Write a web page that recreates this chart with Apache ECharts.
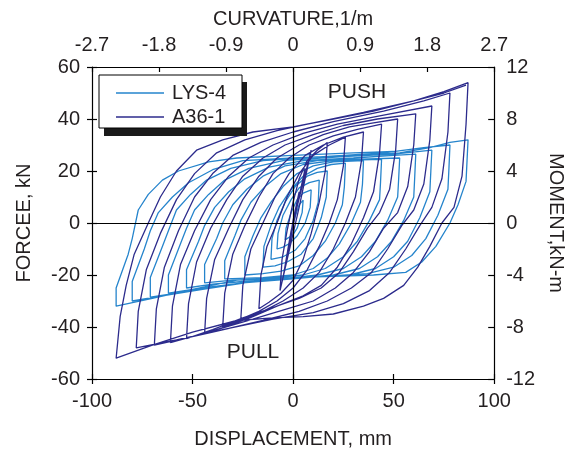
<!DOCTYPE html>
<html>
<head>
<meta charset="utf-8">
<script src="https://cdn.jsdelivr.net/npm/echarts@6/dist/echarts.min.js"></script>
<style>
	html, body { margin: 0; padding: 0; background: #fff; }
	#main { width: 574px; height: 454px; }
</style>
</head>
<body>
<div id="main"></div>
<script>
// displacement (mm), force (kN)
var lys4Path = [
	[0,0],[3,7],[5,8.8],[4.5,4],[2,-2],[0,-4.5],[-3,-6],[-4,-6.5],
	[-3.5,-2],[-1,4],[2,9],[5,11.5],[9,12.7],
	[8.5,6],[6,0],[2,-5],[-2,-8],[-5,-9.3],[-8,-10],
	[-7.5,-4],[-5,3],[-1,9],[3,13.5],[8,15.5],[13,16.5],
	[12.5,8],[10,1],[6,-6],[1,-10.5],[-5,-13],[-11,-14],
	[-10.5,-6],[-8,1],[-4,8],[1,14],[7,18],[12,19.5],[17,20],
	[16.5,10],[14,2],[10,-6],[4,-12],[-3,-15],[-9,-16.5],[-15,-17],
	[-14.5,-9],[-11,-1],[-7,6],[-1,13],[5,18],[12,21],[19,22.5],[26,23],
	[25.5,14],[24.5,7],[21,0],[16,-7],[10,-12.5],[3,-16.5],[-6,-18.5],[-15,-19.5],[-24,-20],
	[-24,-13],[-20,-5],[-16,2],[-11,8],[-5,14],[2,19],[10,22],[20,23.5],[35,24],
	[34.5,15],[33.5,8],[29,0],[23,-8],[17,-13.5],[10,-17.5],[0,-20],[-15,-21],[-34,-21.5],
	[-34,-14.5],[-29,-5],[-26,1],[-21,8],[-14,14],[-6,19],[5,22.5],[20,24],[44,24.5],
	[43.5,16],[43,9],[38,1],[32,-7],[25,-13],[16,-17.5],[5,-20],[-15,-21.5],[-30,-22],[-44,-23],
	[-44,-16],[-38,-6],[-35,0],[-30,7],[-23,13],[-15,18],[-4,22],[12,24],[30,24.5],[53,25],
	[52.5,17],[52,10],[47,1],[41,-7],[34,-13],[25,-17.5],[12,-20],[-5,-21.5],[-25,-22.5],[-40,-23.5],[-53,-25],
	[-53,-18],[-47,-7],[-44,-1],[-39,6],[-32,12],[-24,17],[-12,21.5],[5,24],[30,25],[50,26],[61,26.5],
	[60.5,18],[60,10],[55,1],[49,-7],[42,-13],[33,-17.5],[20,-20],[0,-21.5],[-25,-23],[-45,-25],[-62,-27],
	[-62,-20],[-56,-8],[-53,-2],[-49,5],[-42,11],[-34,16.5],[-22,21],[-5,24],[25,25.5],[50,26.5],[69,28],
	[68.5,20],[68,12],[63,2],[57,-7],[50,-13],[41,-17.5],[28,-20],[5,-21],[-25,-23],[-50,-26],[-71,-28.5],
	[-71,-21],[-65,-9],[-62,-3],[-58,5],[-51,11],[-43,16.5],[-31,21],[-15,24],[15,25.5],[45,27],[65,29],[78,30],
	[77.5,21],[77,13],[72,3],[66,-6],[59,-12.5],[50,-17],[37,-19.5],[15,-20.5],[-15,-22],[-45,-25.5],[-65,-28],[-80,-30],
	[-80,-22.5],[-74,-10],[-71,-3],[-67,4],[-60,10],[-52,15.5],[-40,20.5],[-25,24],[0,25],[30,26],[53,27],[68,29],[78,31],[87,32],
	[86.5,24],[86,16],[82,7],[78,0],[71,-9],[64,-15],[56,-19],[40,-20],[20,-20.5],[0,-21],[-28,-22],[-50,-25.5],[-70,-29],[-88,-32],
	[-88,-25],[-82,-12],[-80,-6],[-77,5],[-72,11],[-65,16.5],[-57,20],[-42,23.5],[-28,25],[0,26],[30,27],[50,27.5]
];

var a361Path = [
	[0,0],[3,12],[0,1],[-3,-13],[0,-1],[6,21],[1,3],[-5,-21],[-1,-3],[9,28],[3,6],[-6.5,-26],
	[-5.5,-14],[-3,-3],[0,8],[3,17],[7,24],[12,28],[17,31],
	[16,20],[13,8],[9,-4],[5,-14],[0,-22],[-6,-27],[-12,-30.5],[-17,-33],
	[-16,-20],[-13,-9],[-8,0],[-3,10],[3,19],[10,26],[18,30],[26,33],
	[25,22],[22,9],[18,0],[13,-9],[7,-18],[0,-25],[-8,-30],[-17,-34],[-26,-37],
	[-25,-24],[-21,-10],[-15,0],[-9,10],[-2,19],[6,26],[15,30],[25,33],[35,35],
	[34,24],[31,10],[26,0],[20,-10],[13,-19],[5,-25],[-5,-30],[-15,-34],[-25,-37],[-35,-40],
	[-34,-27],[-30,-12],[-24,-1],[-17,10],[-10,19],[-2,25],[8,30],[20,33.5],[32,36],[44,38],
	[43,27],[40,12],[35,2],[29,-8],[22,-17],[14,-24],[5,-28],[-8,-32],[-20,-36],[-32,-39.5],[-44,-42.5],
	[-43,-29],[-39,-14],[-32,-2],[-25,9],[-17,18],[-8,25],[3,30],[15,34],[28,37],[40,38.5],[52,40],
	[51,28],[48,13],[43,4],[37,-2],[30,-11],[23,-19],[14,-25],[3,-29],[-10,-32.5],[-25,-36.5],[-40,-41],[-53,-44.5],
	[-52,-31],[-48,-15],[-41,-2],[-33,9],[-25,18],[-15,25],[-4,30],[10,34],[25,37.5],[42,40],[61,42],
	[60,30],[57,14],[52,4],[45,-2],[38,-11],[30,-19],[21,-25],[10,-30],[-3,-33],[-20,-37],[-40,-41.5],[-61,-46],
	[-60,-32],[-56,-16],[-49,-3],[-41,9],[-32,18],[-22,25],[-10,30],[5,34.5],[22,38],[45,41.5],[69,45],
	[68,32],[65,15],[60,5],[54,-1],[47,-10],[39,-19],[29,-25],[17,-30],[3,-34],[-15,-37.5],[-40,-42],[-69,-47],
	[-68,-33],[-64,-17],[-57,-3],[-49,10],[-40,19],[-30,26],[-16,31],[0,35],[20,39],[45,43],[65,47],[78,50],
	[77,35],[74,17],[69,6],[63,-1],[56,-10],[48,-19],[38,-26],[25,-31],[10,-34.5],[-10,-37],[-35,-41],[-58,-45],[-78,-48],
	[-77,-34],[-73,-18],[-66,-4],[-58,9],[-49,19],[-38,27],[-24,32],[-8,35.5],[10,38.5],[35,42.5],[60,47],[75,50.5],[87,54],
	[86,38],[84,18],[80,6],[74,0],[68,-9],[62,-17],[55,-24],[45,-29],[35,-32],[20,-35],[5,-36],[-10,-36.5],[-28,-37.5],[-50,-42],[-70,-47],[-88,-52],
	[-86,-36],[-83,-24],[-79,-12],[-72,0],[-66,10],[-58,20],[-48,28],[-35,32],[-20,35],[0,37],[20,40],[40,43],[60,47],[75,50],[86,53]
];

var seriesNames = ['LYS-4', 'A36-1'];
var seriesColors = ['#2584cc', '#2c2b8c'];

var font = 'Liberation Sans, Arial, sans-serif';
var ink = '#231f20';
var axisLine = { show: true, onZero: false, lineStyle: { color: '#000', width: 1.2 } };

var chart = echarts.init(document.getElementById('main'));

chart.setOption({
	animation: false,
	textStyle: { fontFamily: font },
	grid: { left: 92, right: 74, top: 67, bottom: 74 },
	legend: {
		left: 116,
		top: 83,
		orient: 'vertical',
		data: seriesNames,
		icon: 'rect',
		itemWidth: 48,
		itemHeight: 1.4,
		itemGap: 4,
		padding: 0,
		z: 10,
		textStyle: { fontSize: 20, color: ink, fontFamily: font, padding: [0, 0, 0, 3] }
	},
	xAxis: [{
		type: 'value', position: 'bottom',
		min: -100, max: 100, interval: 50,
		axisLine: axisLine,
		axisTick: { show: true, length: 5, lineStyle: { color: '#000', width: 1.2 } },
		splitLine: { show: false },
		axisLabel: { fontSize: 20, color: ink, margin: 12 },
		name: 'DISPLACEMENT, mm', nameLocation: 'middle', nameGap: 50,
		nameTextStyle: { fontSize: 20, color: ink }
	}, {
		type: 'value', position: 'top',
		min: -2.7, max: 2.7, interval: 0.9,
		axisLine: axisLine,
		axisTick: { show: true, inside: true, length: 5, lineStyle: { color: '#000', width: 1.2 } },
		splitLine: { show: false },
		axisLabel: {
			fontSize: 20, color: ink, margin: 12,
			formatter: function(v) { return Math.abs(v) < 1e-9 ? '0' : v.toFixed(1); }
		},
		name: 'CURVATURE,1/m', nameLocation: 'middle', nameGap: 38,
		nameTextStyle: { fontSize: 20, color: ink }
	}, {
		type: 'value', position: 'bottom',
		min: -100, max: 100, interval: 50,
		axisLine: { show: false, onZero: false },
		axisTick: { show: true, inside: true, length: 5, lineStyle: { color: '#000', width: 1.2 } },
		splitLine: { show: false },
		axisLabel: { show: false }
	}],
	yAxis: [{
		type: 'value', position: 'left',
		min: -60, max: 60, interval: 20,
		axisLine: axisLine,
		axisTick: { show: true, length: 5, lineStyle: { color: '#000', width: 1.2 } },
		splitLine: { show: false },
		axisLabel: { fontSize: 20, color: ink, margin: 12 },
		name: 'FORCEE, kN', nameLocation: 'middle', nameGap: 58,
		nameTextStyle: { fontSize: 20, color: ink }
	}, {
		type: 'value', position: 'right',
		min: -12, max: 12, interval: 4,
		axisLine: axisLine,
		axisTick: { show: true, inside: true, length: 6, lineStyle: { color: '#000', width: 1.2 } },
		splitLine: { show: false },
		axisLabel: { fontSize: 20, color: ink, margin: 12 },
		name: 'MOMENT,kN-m', nameLocation: 'middle', nameGap: 34, nameRotate: -90,
		nameTextStyle: { fontSize: 20, color: ink }
	}, {
		type: 'value', position: 'left',
		min: -60, max: 60, interval: 20,
		axisLine: { show: false, onZero: false },
		axisTick: { show: true, inside: true, length: 5, lineStyle: { color: '#000', width: 1.2 } },
		splitLine: { show: false },
		axisLabel: { show: false }
	}],
	graphic: [
		// legend frame with its drop shadow
		{ type: 'rect', z: 8, shape: { x: 104, y: 82, width: 143, height: 54 }, style: { fill: '#1a1a1a' } },
		{ type: 'rect', z: 9, shape: { x: 99, y: 75, width: 143, height: 53 }, style: { fill: '#fff', stroke: '#000', lineWidth: 1 } },
		{ type: 'text', x: 357, y: 92, style: { text: 'PUSH', fontSize: 21, fontFamily: font, fill: ink, textAlign: 'center', textVerticalAlign: 'middle' } },
		{ type: 'text', x: 253, y: 352, style: { text: 'PULL', fontSize: 21, fontFamily: font, fill: ink, textAlign: 'center', textVerticalAlign: 'middle' } }
	],
	series: [{
		name: seriesNames[0],
		type: 'line',
		data: lys4Path,
		symbol: 'none',
		showSymbol: false,
		color: seriesColors[0],
		lineStyle: { width: 1.3, color: seriesColors[0] },
		z: 2
	}, {
		name: seriesNames[1],
		type: 'line',
		data: a361Path,
		symbol: 'none',
		showSymbol: false,
		color: seriesColors[1],
		lineStyle: { width: 1.3, color: seriesColors[1] },
		z: 3
	}, {
		name: 'zero',
		type: 'line',
		data: [],
		silent: true,
		z: 5,
		markLine: {
			silent: true,
			symbol: 'none',
			label: { show: false },
			lineStyle: { color: '#000', width: 1.2, type: 'solid' },
			data: [{ xAxis: 0 }, { yAxis: 0 }]
		}
	}]
});
</script>
</body>
</html>
